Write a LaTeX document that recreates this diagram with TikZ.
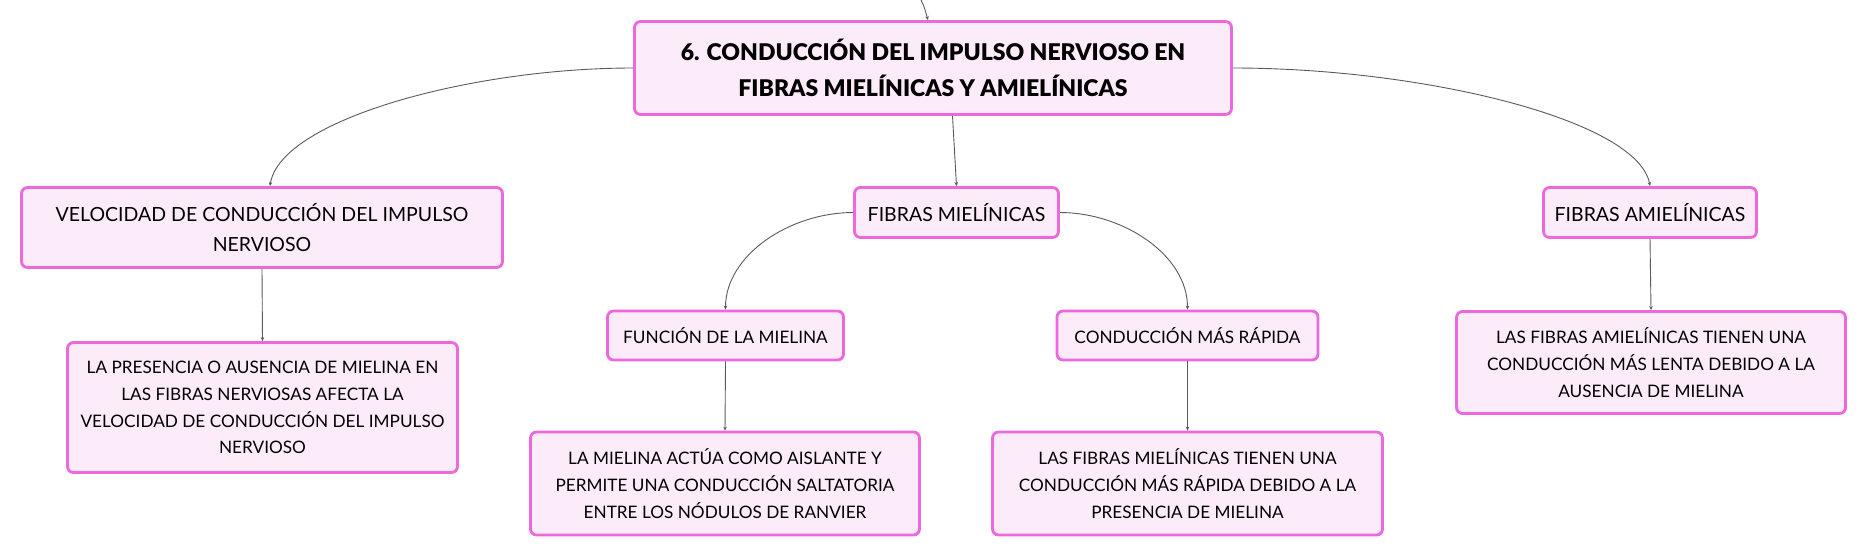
\documentclass[tikz,border=0pt]{standalone}
\usepackage{fontspec}
\setmainfont{Lato}
\newfontfamily\titlefont{Lato Black}
\usepackage{xcolor}
\usetikzlibrary{arrows.meta}
\definecolor{boxpink}{RGB}{236,104,220}
\definecolor{boxfill}{RGB}{252,236,250}
\definecolor{linegray}{RGB}{90,90,90}

\begin{document}
\begin{tikzpicture}[x=1pt,y=-1pt,
  box/.style={draw=boxpink, fill=boxfill, line width=2.8pt, rounded corners=6pt, align=center, inner sep=0pt},
  topbox/.style={box, font=\titlefont\fontsize{23}{36}\selectfont},
  subbox/.style={box, font=\fontsize{19.5}{29.7}\selectfont},
  leafbox/.style={box, font=\fontsize{17.2}{26.7}\selectfont},
  link/.style={draw=linegray, line width=0.9pt, -{Stealth[length=4pt,width=3.5pt]}}]
\useasboundingbox (0,0) rectangle (1868,558);
\node[topbox, minimum width=597pt, minimum height=93pt] (title) at (933,68) {6. CONDUCCIÓN DEL IMPULSO NERVIOSO EN\\FIBRAS MIELÍNICAS Y AMIELÍNICAS};
\node[subbox, minimum width=481pt, minimum height=80pt] (vel) at (262,227.5) {VELOCIDAD DE CONDUCCIÓN DEL IMPULSO\\NERVIOSO};
\node[subbox, minimum width=204pt, minimum height=50pt] (fm) at (956.5,212.5) {FIBRAS MIELÍNICAS};
\node[subbox, minimum width=213pt, minimum height=50pt] (fa) at (1650,212.5) {FIBRAS AMIELÍNICAS};
\node[leafbox, minimum width=390pt, minimum height=130pt] (pres) at (262.5,407.5) {LA PRESENCIA O AUSENCIA DE MIELINA EN\\LAS FIBRAS NERVIOSAS AFECTA LA\\VELOCIDAD DE CONDUCCIÓN DEL IMPULSO\\NERVIOSO};
\node[leafbox, minimum width=236pt, minimum height=49pt] (fun) at (725.5,335.5) {FUNCIÓN DE LA MIELINA};
\node[leafbox, minimum width=261pt, minimum height=49pt] (cmr) at (1187.5,335.5) {CONDUCCIÓN MÁS RÁPIDA};
\node[leafbox, minimum width=389pt, minimum height=103pt] (mact) at (725,483.5) {LA MIELINA ACTÚA COMO AISLANTE Y\\PERMITE UNA CONDUCCIÓN SALTATORIA\\ENTRE LOS NÓDULOS DE RANVIER};
\node[leafbox, minimum width=390pt, minimum height=103pt] (lfm) at (1187.5,483.5) {LAS FIBRAS MIELÍNICAS TIENEN UNA\\CONDUCCIÓN MÁS RÁPIDA DEBIDO A LA\\PRESENCIA DE MIELINA};
\node[leafbox, minimum width=389pt, minimum height=102pt] (lfa) at (1651,362.5) {LAS FIBRAS AMIELÍNICAS TIENEN UNA\\CONDUCCIÓN MÁS LENTA DEBIDO A LA\\AUSENCIA DE MIELINA};
\coordinate (up) at (920,-2);
\draw[link] (up) .. controls (924,6) .. ([xshift=-5pt]title.north);
\draw[link] (title.west) .. controls (470,68) and (280,120) .. ([xshift=8pt]vel.north);
\draw[link] (title.east) .. controls (1423,68) and (1638,120) .. (fa.north);
\draw[link] ([xshift=-4pt]fm.north |- title.south) -- (fm.north);
\draw[link] (fm.west) .. controls (790,212.5) and (725.5,255) .. (fun.north);
\draw[link] (fm.east) .. controls (1123,212.5) and (1187.5,255) .. (cmr.north);
\draw[link] (vel.south) -- (pres.north);
\draw[link] (fun.south) -- (mact.north);
\draw[link] (cmr.south) -- (lfm.north);
\draw[link] (fa.south) -- (lfa.north);
\end{tikzpicture}
\end{document}
